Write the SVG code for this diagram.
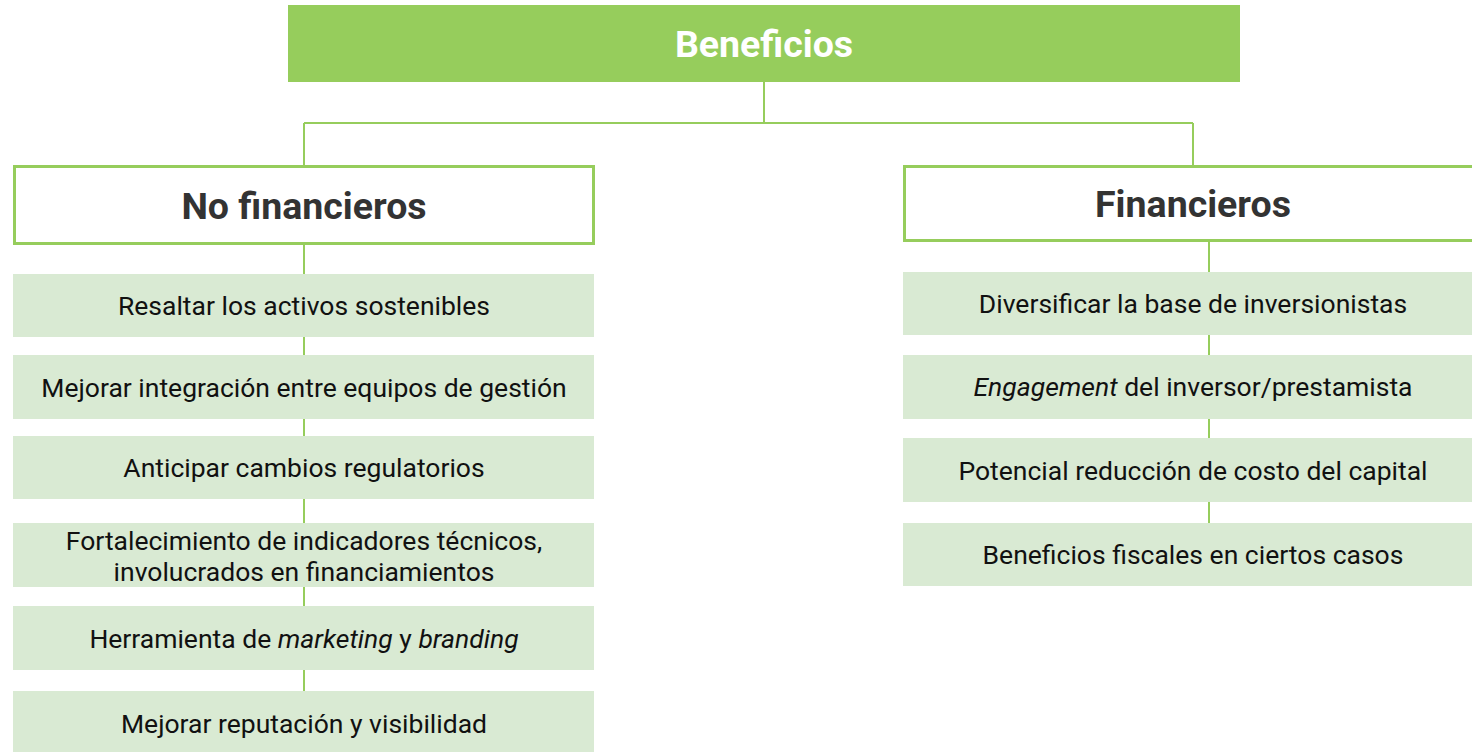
<svg xmlns="http://www.w3.org/2000/svg" width="1472" height="752" viewBox="0 0 1472 752">
<style>
.top{fill:#96CD5C}
.hdr{fill:#fff;stroke:#96CD5C;stroke-width:3}
.item{fill:#D9EAD3}
.ln{stroke:#96CD5C;stroke-width:2;fill:none}
text{font-family:Roboto,"Liberation Sans",sans-serif;text-anchor:middle}
.t1{fill:#fff;font-weight:bold;font-size:37.5px}
.t2{fill:#333;font-weight:bold;font-size:37.5px}
.t3{fill:#111;font-size:26.5px}
</style>
<rect width="1472" height="752" fill="#fff"/>
<g id="connectors">
<path class="ln" d="M764 82V123M304 123H1193M304 123V165M1193 123V165"/>
<path class="ln" d="M304 244V691"/>
<path class="ln" d="M1209 241V523"/>
</g>
<g id="beneficios"><rect class="top" x="288" y="5" width="952" height="77"/><text class="t1" x="764" y="57">Beneficios</text></g>
<g id="no-financieros"><rect class="hdr" x="14.5" y="166.5" width="579" height="77"/><text class="t2" x="304" y="219">No financieros</text></g>
<g id="financieros"><rect class="hdr" x="904.5" y="166.5" width="600" height="74"/><text class="t2" x="1193" y="217">Financieros</text></g>
<g id="l1"><rect class="item" x="13" y="274" width="581" height="63"/><text class="t3" x="304" y="315">Resaltar los activos sostenibles</text></g>
<g id="l2"><rect class="item" x="13" y="355" width="581" height="64"/><text class="t3" x="304" y="397">Mejorar integración entre equipos de gestión</text></g>
<g id="l3"><rect class="item" x="13" y="436" width="581" height="63"/><text class="t3" x="304" y="477">Anticipar cambios regulatorios</text></g>
<g id="l4"><rect class="item" x="13" y="523" width="581" height="64"/><text class="t3" x="304" y="550">Fortalecimiento de indicadores técnicos,</text><text class="t3" x="304" y="581">involucrados en financiamientos</text></g>
<g id="l5"><rect class="item" x="13" y="606" width="581" height="64"/><text class="t3" x="304" y="648">Herramienta de <tspan font-style="italic">marketing</tspan> y <tspan font-style="italic">branding</tspan></text></g>
<g id="l6"><rect class="item" x="13" y="691" width="581" height="61"/><text class="t3" x="304" y="733">Mejorar reputación y visibilidad</text></g>
<g id="r1"><rect class="item" x="903" y="272" width="600" height="63"/><text class="t3" x="1193" y="313">Diversificar la base de inversionistas</text></g>
<g id="r2"><rect class="item" x="903" y="355" width="600" height="64"/><text class="t3" x="1193" y="396"><tspan font-style="italic">Engagement</tspan> del inversor/prestamista</text></g>
<g id="r3"><rect class="item" x="903" y="438" width="600" height="64"/><text class="t3" x="1193" y="480">Potencial reducción de costo del capital</text></g>
<g id="r4"><rect class="item" x="903" y="523" width="600" height="63"/><text class="t3" x="1193" y="564">Beneficios fiscales en ciertos casos</text></g>
</svg>
